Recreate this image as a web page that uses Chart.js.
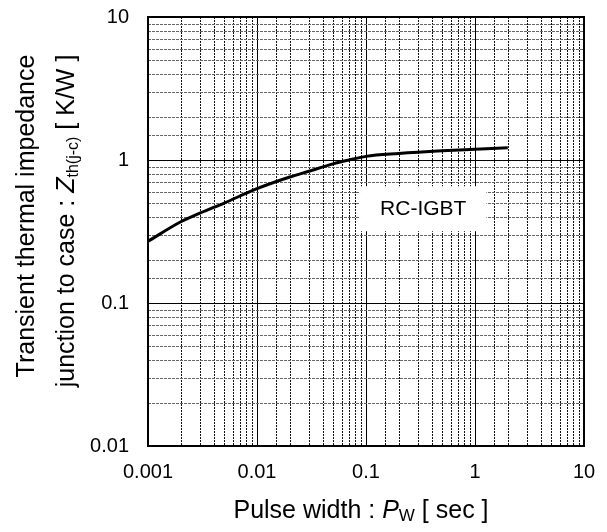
<!DOCTYPE html>
<html>
<head>
<meta charset="utf-8">
<script src="https://cdn.jsdelivr.net/npm/chart.js@4.4.1/dist/chart.umd.min.js"></script>
<style>
  html, body { margin: 0; padding: 0; background: #fff; }
  #wrap { width: 607px; height: 532px; }
</style>
</head>
<body>
<div id="wrap"><canvas id="c" width="607" height="532"></canvas></div>
<script>
// Transient thermal impedance curve (junction to case), log-log
const pulseWidth = [0.001, 0.002, 0.003, 0.005, 0.01, 0.02, 0.03, 0.05, 0.07, 0.1, 0.2, 0.5, 1, 2];
const zthJC      = [0.27, 0.37, 0.425, 0.50, 0.63, 0.76, 0.835, 0.94, 1.0, 1.06, 1.11, 1.16, 1.19, 1.22];
const xTickLabels = ['0.001', '0.01', '0.1', '1', '10'];
const yTickLabels = ['0.01', '0.1', '1', '10'];
const seriesLabel = 'RC-IGBT';
const labelAnchor = [0.335, 0.46];   // data position of the series tag

const FONT = '"Liberation Sans", Arial, Helvetica, sans-serif';

const isDecade = v => Math.abs(Math.log10(v) - Math.round(Math.log10(v))) < 1e-6;
const decadeLabel = (list) => (v) => {
  if (!isDecade(v)) return '';
  const hit = list.find(s => Math.abs(parseFloat(s) - v) < v * 1e-6);
  return hit || '';
};

// Grid: solid decade lines, dashed minor lines
const gridPlugin = {
  id: 'logGrid',
  beforeDatasetsDraw(chart) {
    const { ctx, chartArea: a, scales: { x, y } } = chart;
    ctx.save();
    ctx.lineWidth = 1;
    x.ticks.forEach(t => {
      const px = Math.round(x.getPixelForValue(t.value)) + 0.5;
      if (px <= a.left + 1 || px >= a.right - 1) return;
      const major = isDecade(t.value);
      ctx.strokeStyle = major ? '#000' : '#111';
      ctx.setLineDash(major ? [] : [2, 1]);
      ctx.beginPath(); ctx.moveTo(px, a.top); ctx.lineTo(px, a.bottom); ctx.stroke();
    });
    y.ticks.forEach(t => {
      const py = Math.round(y.getPixelForValue(t.value)) + 0.5;
      if (py <= a.top + 1 || py >= a.bottom - 1) return;
      const major = isDecade(t.value);
      ctx.strokeStyle = major ? '#000' : '#666';
      ctx.setLineDash(major ? [] : [3, 1]);
      ctx.beginPath(); ctx.moveTo(a.left, py); ctx.lineTo(a.right, py); ctx.stroke();
    });
    ctx.restore();
  }
};

// Draws a sequence of styled text runs centred on (0,0) at the baseline
function drawRuns(ctx, runs, size) {
  const fontFor = r => `${r.italic ? 'italic ' : ''}${Math.round(size * (r.scale || 1))}px ${FONT}`;
  let total = 0;
  runs.forEach(r => { ctx.font = fontFor(r); r.w = ctx.measureText(r.t).width; total += r.w; });
  let cx = -total / 2;
  ctx.textBaseline = 'alphabetic';
  ctx.textAlign = 'left';
  runs.forEach(r => {
    ctx.font = fontFor(r);
    ctx.fillText(r.t, cx, (r.dy || 0) * size);
    cx += r.w;
  });
}

const framePlugin = {
  id: 'frameAndTitles',
  afterDatasetsDraw(chart) {
    const { ctx, chartArea: a, scales: { x, y } } = chart;
    ctx.save();
    // series tag with white backing
    const lx = x.getPixelForValue(labelAnchor[0]);
    const ly = y.getPixelForValue(labelAnchor[1]);
    ctx.font = `21px ${FONT}`;
    const tw = ctx.measureText(seriesLabel).width;
    ctx.fillStyle = '#fff';
    ctx.fillRect(lx - tw / 2 - 20, ly - 22, tw + 40, 45);
    ctx.fillStyle = '#000';
    ctx.textAlign = 'center';
    ctx.textBaseline = 'middle';
    ctx.fillText(seriesLabel, lx, ly + 1);

    // plot frame
    ctx.strokeStyle = '#000';
    ctx.lineWidth = 2;
    ctx.setLineDash([]);
    ctx.strokeRect(a.left, a.top, a.right - a.left, a.bottom - a.top);
    ctx.restore();
  },
  afterDraw(chart) {
    const { ctx, chartArea: a } = chart;
    ctx.save();
    ctx.fillStyle = '#000';
    // x axis title
    ctx.save();
    ctx.translate((a.left + a.right) / 2 - 5, 518);
    drawRuns(ctx, [
      { t: 'Pulse width : ' },
      { t: 'P', italic: true },
      { t: 'W', scale: 0.68, dy: 0.12 },
      { t: ' [ sec ]' }
    ], 25);
    ctx.restore();
    // y axis title, two lines
    ctx.save();
    ctx.translate(34, 216);
    ctx.rotate(-Math.PI / 2);
    drawRuns(ctx, [{ t: 'Transient thermal impedance' }], 25);
    ctx.restore();
    ctx.save();
    ctx.translate(74, 221);
    ctx.rotate(-Math.PI / 2);
    drawRuns(ctx, [
      { t: 'junction to case : ' },
      { t: 'Z', italic: true },
      { t: 'th(j-c)', scale: 0.62, dy: 0.14 },
      { t: ' [ K/W ]' }
    ], 25);
    ctx.restore();
    ctx.restore();
  }
};

new Chart(document.getElementById('c'), {
  type: 'line',
  data: {
    datasets: [{
      label: seriesLabel,
      data: pulseWidth.map((p, i) => ({ x: p, y: zthJC[i] })),
      borderColor: '#000',
      borderWidth: 3,
      pointRadius: 0,
      fill: false,
      cubicInterpolationMode: 'monotone'
    }]
  },
  options: {
    responsive: false,
    devicePixelRatio: 1,
    animation: false,
    layout: { padding: { top: 17, right: 23, left: 0, bottom: 0 } },
    plugins: { legend: { display: false }, tooltip: { enabled: false } },
    scales: {
      x: {
        type: 'logarithmic',
        position: 'bottom',
        min: 0.001, max: 10,
        grid: { display: false, drawTicks: false },
        border: { display: false },
        ticks: {
          autoSkip: false, maxRotation: 0, minRotation: 0,
          color: '#000', padding: 14,
          font: { family: FONT, size: 20 },
          callback: decadeLabel(xTickLabels)
        },
        afterFit(s) { s.height = 86; s.paddingLeft = 0; s.paddingRight = 0; }
      },
      y: {
        type: 'logarithmic',
        position: 'left',
        min: 0.01, max: 10,
        grid: { display: false, drawTicks: false },
        border: { display: false },
        ticks: {
          autoSkip: false,
          color: '#000', padding: 19,
          font: { family: FONT, size: 20 },
          callback: decadeLabel(yTickLabels)
        },
        afterFit(s) { s.width = 148; s.paddingTop = 0; s.paddingBottom = 0; }
      }
    }
  },
  plugins: [gridPlugin, framePlugin]
});
</script>
</body>
</html>
